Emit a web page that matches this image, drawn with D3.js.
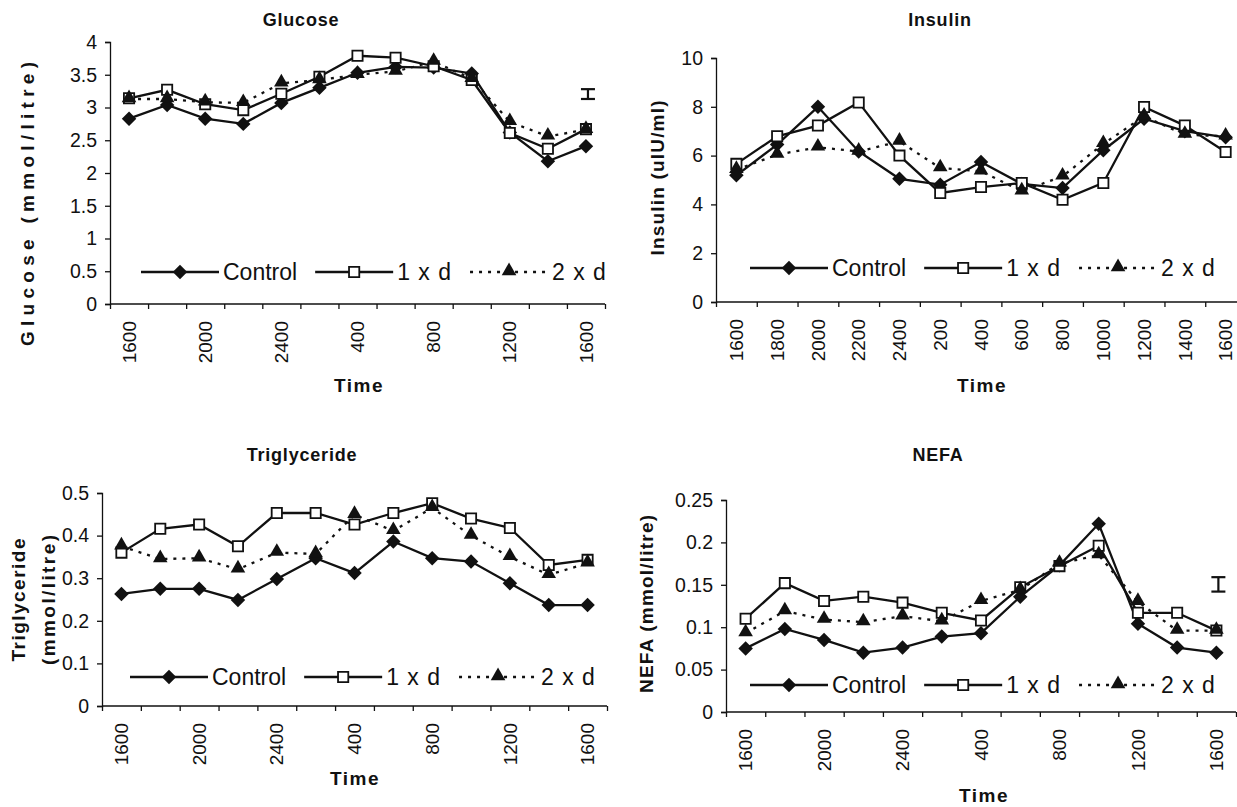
<!DOCTYPE html>
<html>
<head>
<meta charset="utf-8">
<script src="https://cdn.jsdelivr.net/npm/d3@7"></script>
<style>
    body { margin: 0; background: #fff; }
    svg { font-family: "Liberation Sans", Arial, sans-serif; }
</style>
</head>
<body>
<div class="visholder"></div>
<script>
let width = 1237,
    height = 807;

// sampling times (24h clock), first and last are both 1600
const times = ["1600", "1800", "2000", "2200", "2400", "200", "400", "600", "800", "1000", "1200", "1400", "1600"];
const seriesNames = ["Control", "1 x d", "2 x d"];

const glucoseControl = [2.83, 3.04, 2.83, 2.75, 3.07, 3.30, 3.53, 3.62, 3.61, 3.52, 2.62, 2.18, 2.41];
const glucose1xd = [3.14, 3.27, 3.05, 2.96, 3.21, 3.47, 3.79, 3.76, 3.63, 3.42, 2.61, 2.37, 2.67];
const glucose2xd = [3.13, 3.13, 3.08, 3.07, 3.37, 3.42, 3.50, 3.55, 3.70, 3.44, 2.78, 2.56, 2.66];
const glucoseTicks = [0, 0.5, 1, 1.5, 2, 2.5, 3, 3.5, 4];
const glucoseErrorBar = [3.13, 3.28];

const insulinControl = [5.19, 6.45, 8.0, 6.17, 5.05, 4.81, 5.74, 4.84, 4.67, 6.22, 7.51, 7.0, 6.75];
const insulin1xd = [5.66, 6.79, 7.23, 8.18, 6.0, 4.47, 4.71, 4.88, 4.19, 4.88, 7.99, 7.23, 6.15];
const insulin2xd = [5.42, 6.04, 6.34, 6.17, 6.58, 5.49, 5.36, 4.54, 5.15, 6.48, 7.61, 6.86, 6.79];
const insulinTicks = [0, 2, 4, 6, 8, 10];

const trigControl = [0.263, 0.275, 0.275, 0.249, 0.298, 0.347, 0.312, 0.386, 0.347, 0.339, 0.288, 0.237, 0.237];
const trig1xd = [0.36, 0.416, 0.426, 0.375, 0.453, 0.453, 0.426, 0.453, 0.476, 0.44, 0.418, 0.331, 0.343];
const trig2xd = [0.375, 0.345, 0.347, 0.321, 0.36, 0.357, 0.449, 0.411, 0.465, 0.40, 0.35, 0.308, 0.335];
const trigTicks = [0, 0.1, 0.2, 0.3, 0.4, 0.5];

const nefaControl = [0.075, 0.098, 0.085, 0.07, 0.076, 0.089, 0.093, 0.136, 0.173, 0.222, 0.104, 0.076, 0.07];
const nefa1xd = [0.110, 0.152, 0.131, 0.136, 0.129, 0.117, 0.108, 0.147, 0.172, 0.196, 0.117, 0.117, 0.096];
const nefa2xd = [0.093, 0.119, 0.109, 0.106, 0.113, 0.107, 0.131, 0.144, 0.175, 0.185, 0.130, 0.096, 0.096];
const nefaTicks = [0, 0.05, 0.1, 0.15, 0.2, 0.25];
const nefaErrorBar = [0.142, 0.159];

const ink = "#111";

var svg = d3.select(".visholder")
    .append("svg")
    .attr("width", width)
    .attr("height", height);

// layout of the four panels
const panels = [
    { title: "Glucose", titleX: 301, titleY: 20,
      yLabel: ["Glucose  (mmol/litre)"], yLabelX: [27], yLabelY: 204, yLabelLen: [284],
      series: [glucoseControl, glucose1xd, glucose2xd], ticks: glucoseTicks, err: glucoseErrorBar,
      left: 110, right: 605, top: 42, bottom: 304, allLabels: false,
      timeX: 359, timeY: 385, legendX: 141, legendY: 272 },
    { title: "Insulin", titleX: 940, titleY: 20,
      yLabel: ["Insulin (uIU/ml)"], yLabelX: [657], yLabelY: 178, yLabelLen: [155],
      series: [insulinControl, insulin1xd, insulin2xd], ticks: insulinTicks, err: null,
      left: 716, right: 1246, top: 58, bottom: 302, allLabels: true,
      timeX: 982, timeY: 385, legendX: 750, legendY: 268 },
    { title: "Triglyceride", titleX: 302, titleY: 455,
      yLabel: ["Triglyceride", "(mmol/litre)"], yLabelX: [18, 48], yLabelY: 600, yLabelLen: [123, 130],
      series: [trigControl, trig1xd, trig2xd], ticks: trigTicks, err: null,
      left: 102, right: 607, top: 493, bottom: 706, allLabels: false,
      timeX: 355, timeY: 778, legendX: 130, legendY: 677 },
    { title: "NEFA", titleX: 938, titleY: 455,
      yLabel: ["NEFA (mmol/litre)"], yLabelX: [646], yLabelY: 604, yLabelLen: [178],
      series: [nefaControl, nefa1xd, nefa2xd], ticks: nefaTicks, err: nefaErrorBar,
      left: 726, right: 1236, top: 500, bottom: 712, allLabels: false,
      timeX: 984, timeY: 795, legendX: 750, legendY: 685 }
];

const diamond = d3.symbol().type(d3.symbolSquare).size(105);
const square = d3.symbol().type(d3.symbolSquare).size(105);
const triangle = d3.symbol().type(d3.symbolTriangle).size(92);

function marker(g, k, cx, cy) {
    if (k == 0) {
        g.append("path").attr("d", diamond)
            .attr("transform", `translate(${cx},${cy}) rotate(45)`)
            .attr("fill", ink);
    } else if (k == 1) {
        g.append("path").attr("d", square)
            .attr("transform", `translate(${cx},${cy})`)
            .attr("fill", "#fff").attr("stroke", ink).attr("stroke-width", 1.8);
    } else {
        g.append("path").attr("d", triangle)
            .attr("transform", `translate(${cx},${cy - 1})`)
            .attr("fill", ink);
    }
}

panels.forEach(function (p) {
    var g = svg.append("g");
    var idx = d3.range(times.length);

    var x = d3.scaleBand().domain(idx).range([p.left, p.right]);
    var xEdge = d3.scaleLinear().domain([0, times.length]).range([p.left, p.right]);
    var y = d3.scaleLinear().domain([0, d3.max(p.ticks)]).range([p.bottom, p.top]);
    var cx = function (i) { return x(i) + x.bandwidth() / 2; };

    // y axis
    g.append("g")
        .attr("transform", `translate(${p.left},0)`)
        .call(d3.axisLeft(y).tickValues(p.ticks).tickSize(5).tickPadding(8).tickFormat(function (d) { return String(d); }))
        .call(function (a) {
            a.selectAll("path, line").attr("stroke", ink).attr("stroke-width", 1.3);
            a.selectAll("text").attr("font-size", 19.5).attr("fill", ink).attr("font-family", null);
        });

    // x axis tick marks at the category edges
    g.append("g")
        .attr("transform", `translate(0,${p.bottom})`)
        .call(d3.axisBottom(xEdge).tickValues(d3.range(times.length + 1)).tickSize(5).tickFormat(""))
        .call(function (a) {
            a.selectAll("path, line").attr("stroke", ink).attr("stroke-width", 1.3);
            a.select("path").attr("d", `M${p.left},0H${p.right}`);
        });

    // x labels, rotated, centred on the categories
    var shown = p.allLabels ? idx : idx.filter(function (i) { return i % 2 == 0; });
    g.append("g")
        .attr("transform", `translate(0,${p.bottom})`)
        .call(d3.axisBottom(x).tickValues(shown).tickSize(0).tickFormat(function (i) { return times[i]; }))
        .call(function (a) {
            a.select("path").remove();
            a.selectAll("text")
                .attr("font-size", 19).attr("fill", ink).attr("font-family", null)
                .attr("transform", "rotate(-90)")
                .attr("text-anchor", "end")
                .attr("x", -17).attr("y", 0).attr("dy", "0.35em");
        });

    // titles
    g.append("text")
        .attr("x", p.titleX).attr("y", p.titleY).attr("dy", "0.35em")
        .attr("text-anchor", "middle")
        .attr("font-size", 18).attr("font-weight", "bold").attr("letter-spacing", 0.8)
        .attr("fill", ink)
        .text(p.title);

    g.append("text")
        .attr("x", p.timeX).attr("y", p.timeY).attr("dy", "0.35em")
        .attr("text-anchor", "middle")
        .attr("font-size", 19).attr("font-weight", "bold").attr("letter-spacing", 1.5)
        .attr("fill", ink)
        .text("Time");

    p.yLabel.forEach(function (t, j) {
        g.append("text")
            .attr("transform", `translate(${p.yLabelX[j]},${p.yLabelY}) rotate(-90)`)
            .attr("dy", "0.35em")
            .attr("text-anchor", "middle")
            .attr("font-size", 19).attr("font-weight", "bold")
            .attr("textLength", p.yLabelLen[j]).attr("lengthAdjust", "spacing")
            .attr("fill", ink)
            .text(t);
    });

    // series lines then markers
    p.series.forEach(function (vals, k) {
        g.append("path")
            .datum(vals)
            .attr("fill", "none")
            .attr("stroke", ink)
            .attr("stroke-width", 2.3)
            .attr("stroke-dasharray", k == 2 ? "3,6" : null)
            .attr("d", d3.line().x(function (d, i) { return cx(i); }).y(function (d) { return y(d); }));
    });
    p.series.forEach(function (vals, k) {
        vals.forEach(function (v, i) { marker(g, k, cx(i), y(v)); });
    });

    // error bar drawn at the last time point
    if (p.err) {
        var ex = cx(times.length - 1) + 2;
        var eb = g.append("g").attr("stroke", ink).attr("stroke-width", 2.2);
        eb.append("line").attr("x1", ex).attr("x2", ex).attr("y1", y(p.err[0])).attr("y2", y(p.err[1]));
        eb.append("line").attr("x1", ex - 7).attr("x2", ex + 7).attr("y1", y(p.err[0])).attr("y2", y(p.err[0]));
        eb.append("line").attr("x1", ex - 7).attr("x2", ex + 7).attr("y1", y(p.err[1])).attr("y2", y(p.err[1]));
    }

    // legend
    var lx = p.legendX;
    seriesNames.forEach(function (name, k) {
        var item = g.append("g");
        item.append("line")
            .attr("x1", lx).attr("x2", lx + 78)
            .attr("y1", p.legendY).attr("y2", p.legendY)
            .attr("stroke", ink).attr("stroke-width", 2.3)
            .attr("stroke-dasharray", k == 2 ? "3,6" : null);
        marker(item, k, lx + 39, p.legendY);
        var t = item.append("text")
            .attr("x", lx + 82).attr("y", p.legendY).attr("dy", "0.36em")
            .attr("font-size", 23).attr("fill", ink)
            .attr("letter-spacing", k == 0 ? 0 : 1)
            .text(name);
        lx = lx + 82 + t.node().getComputedTextLength() + 18;
    });
});
</script>
</body>
</html>
